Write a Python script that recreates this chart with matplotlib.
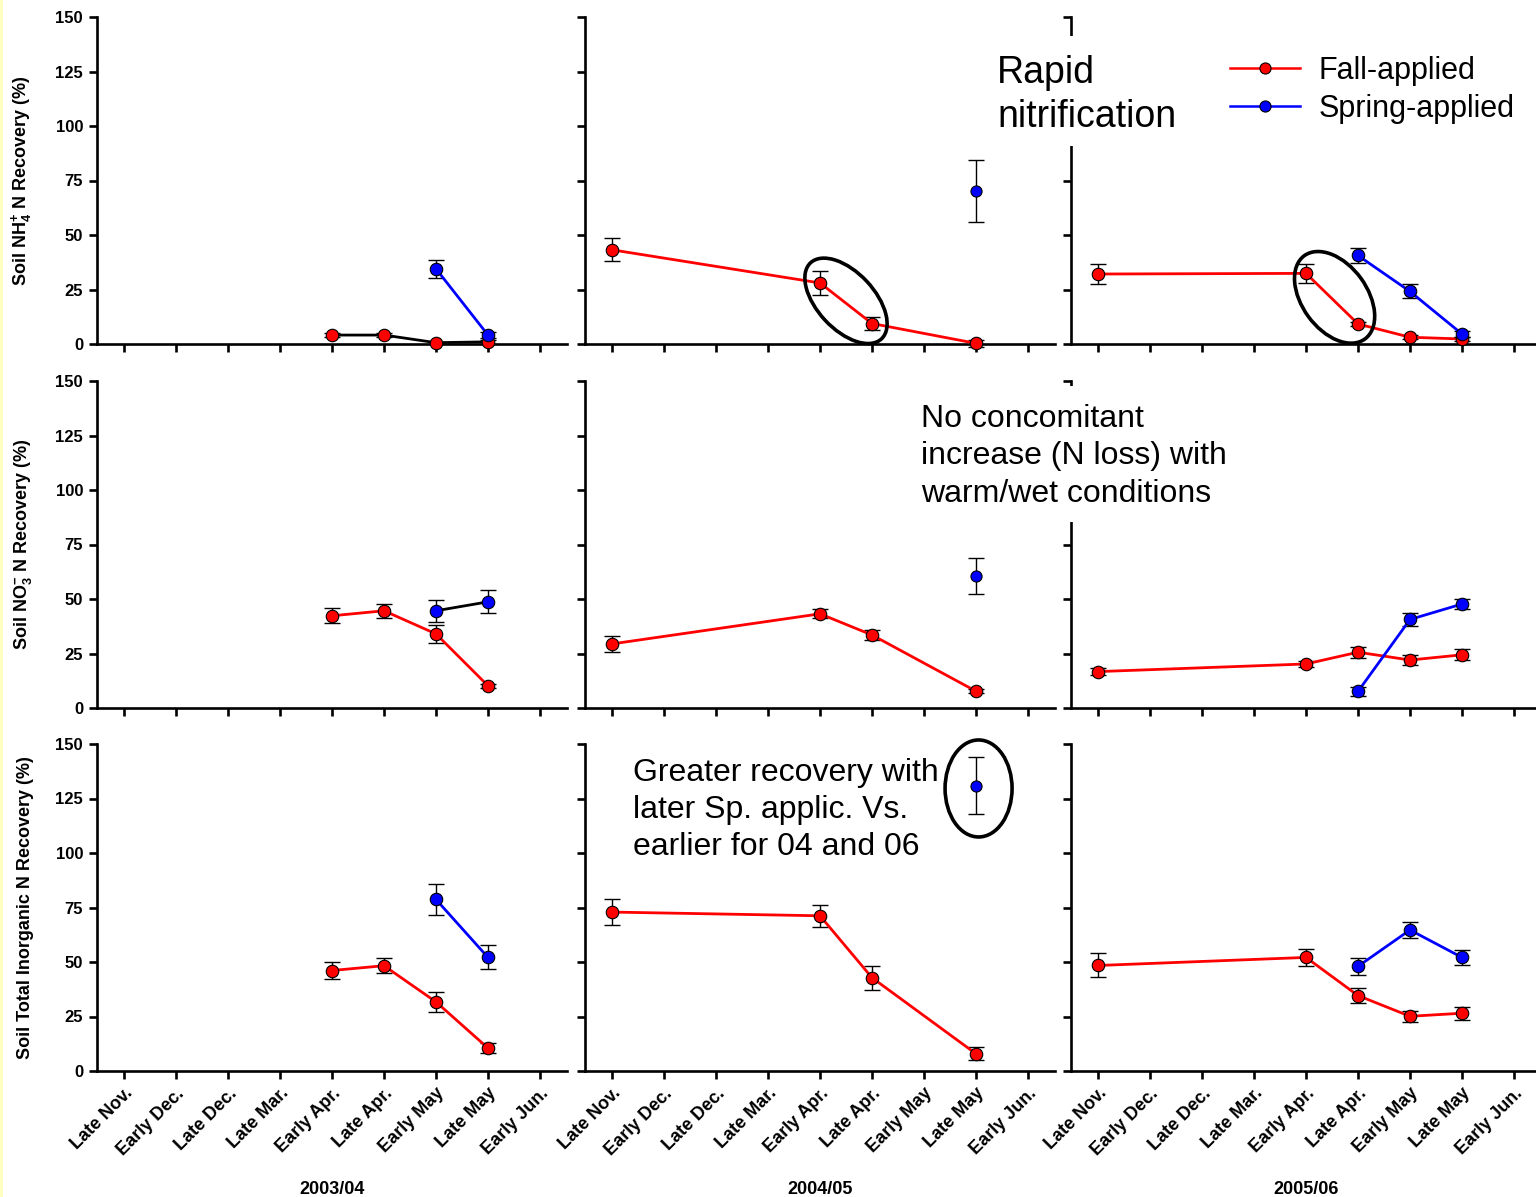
import matplotlib
matplotlib.use("Agg")
import matplotlib.pyplot as plt
from matplotlib.patches import Ellipse, Rectangle
from matplotlib.lines import Line2D
from matplotlib.transforms import ScaledTranslation

plt.rcParams['font.family'] = ['Liberation Sans', 'DejaVu Sans']
plt.rcParams['mathtext.fontset'] = 'custom'
plt.rcParams['mathtext.bf'] = 'Liberation Sans:bold'
plt.rcParams['mathtext.rm'] = 'Liberation Sans:bold'

# ---------------- data ----------------
dates = ["Late Nov.", "Early Dec.", "Late Dec.", "Late Mar.", "Early Apr.",
         "Late Apr.", "Early May", "Late May", "Early Jun."]
seasons = ["2003/04", "2004/05", "2005/06"]
yticks = [0, 25, 50, 75, 100, 125, 150]

fall_idx_0304 = [4, 5, 6, 7]
fall_idx_0405 = [0, 4, 5, 7]
fall_idx_0506 = [0, 4, 5, 6, 7]
spring_idx_0304 = [6, 7]
spring_idx_0405 = [7]
spring_idx_0506 = [5, 6, 7]

# NH4+ recovery
nh4_fall_0304 = [4.1, 4.1, 0.6, 1.0]
nh4_fall_0304_err = [0.8, 0.8, 0.5, 0.8]
nh4_fall_0405 = [43.2, 28.0, 9.4, 0.3]
nh4_fall_0405_err = [5.2, 5.4, 3.0, 1.5]
nh4_fall_0506 = [32.1, 32.4, 9.2, 3.1, 2.3]
nh4_fall_0506_err = [4.4, 4.5, 1.0, 1.0, 1.0]
nh4_spring_0304 = [34.5, 4.1]
nh4_spring_0304_err = [4.0, 1.5]
nh4_spring_0405 = [70.3]
nh4_spring_0405_err = [14.2]
nh4_spring_0506 = [40.6, 24.1, 4.6]
nh4_spring_0506_err = [3.5, 3.2, 1.5]

# NO3- recovery
no3_fall_0304 = [42.3, 44.6, 34.0, 10.2]
no3_fall_0304_err = [3.4, 3.3, 4.2, 1.0]
no3_fall_0405 = [29.4, 43.2, 33.5, 7.7]
no3_fall_0405_err = [3.5, 2.0, 2.5, 1.0]
no3_fall_0506 = [16.7, 20.2, 25.6, 22.0, 24.4]
no3_fall_0506_err = [1.5, 1.5, 2.5, 2.5, 2.5]
no3_spring_0304 = [44.6, 48.7]
no3_spring_0304_err = [5.0, 5.3]
no3_spring_0405 = [60.4]
no3_spring_0405_err = [8.2]
no3_spring_0506 = [7.6, 40.6, 47.7]
no3_spring_0506_err = [2.0, 2.8, 2.5]

# Total inorganic N recovery
tin_fall_0304 = [46.1, 48.3, 31.7, 10.5]
tin_fall_0304_err = [4.0, 3.5, 4.5, 2.4]
tin_fall_0405 = [72.9, 71.2, 42.8, 7.9]
tin_fall_0405_err = [6.0, 5.0, 5.5, 3.0]
tin_fall_0506 = [48.4, 52.1, 34.6, 25.1, 26.5]
tin_fall_0506_err = [5.5, 4.0, 3.3, 2.5, 3.0]
tin_spring_0304 = [78.7, 52.1]
tin_spring_0304_err = [7.0, 5.5]
tin_spring_0405 = [130.9]
tin_spring_0405_err = [13.2]
tin_spring_0506 = [48.0, 64.7, 52.1]
tin_spring_0506_err = [3.8, 3.7, 3.4]

ylabels = [r"Soil NH$_\mathbf{4}^\mathbf{+}$ N Recovery (%)",
           r"Soil NO$_\mathbf{3}^\mathbf{-}$ N Recovery (%)",
           "Soil Total Inorganic N Recovery (%)"]

fall_idx = [fall_idx_0304, fall_idx_0405, fall_idx_0506]
spring_idx = [spring_idx_0304, spring_idx_0405, spring_idx_0506]
fall_vals = [[nh4_fall_0304, nh4_fall_0405, nh4_fall_0506],
             [no3_fall_0304, no3_fall_0405, no3_fall_0506],
             [tin_fall_0304, tin_fall_0405, tin_fall_0506]]
fall_errs = [[nh4_fall_0304_err, nh4_fall_0405_err, nh4_fall_0506_err],
             [no3_fall_0304_err, no3_fall_0405_err, no3_fall_0506_err],
             [tin_fall_0304_err, tin_fall_0405_err, tin_fall_0506_err]]
spring_vals = [[nh4_spring_0304, nh4_spring_0405, nh4_spring_0506],
               [no3_spring_0304, no3_spring_0405, no3_spring_0506],
               [tin_spring_0304, tin_spring_0405, tin_spring_0506]]
spring_errs = [[nh4_spring_0304_err, nh4_spring_0405_err, nh4_spring_0506_err],
               [no3_spring_0304_err, no3_spring_0405_err, no3_spring_0506_err],
               [tin_spring_0304_err, tin_spring_0405_err, tin_spring_0506_err]]

# connecting-line colours as drawn in the original (two panels use black lines)
fall_line_colors = [["black", "red", "red"], ["red", "red", "red"], ["red", "red", "red"]]
spring_line_colors = [["blue", "blue", "blue"], ["black", "blue", "blue"], ["blue", "blue", "blue"]]

# ---------------- figure ----------------
W, H = 1536, 1197
fig = plt.figure(figsize=(W / 100, H / 100), dpi=100)
fig.patch.set_facecolor("white")

col_left = [97, 585, 1071]
row_bottom = [344, 708, 1071]
ax_w, ax_h = 470, 327

axes = [[None] * 3 for _ in range(3)]
for r in range(3):
    for c in range(3):
        ax = fig.add_axes([col_left[c] / W, 1 - row_bottom[r] / H, ax_w / W, ax_h / H])
        axes[r][c] = ax
        ax.set_xlim(-0.52, 8.52)
        ax.set_ylim(0, 150)
        for s in ("top", "right"):
            ax.spines[s].set_visible(False)
        for s in ("left", "bottom"):
            ax.spines[s].set_linewidth(1.9)
        ax.tick_params(direction="out", length=6, width=1.9, color="black")
        ax.set_xticks(range(len(dates)))
        ax.set_yticks(yticks)
        if r == 2:
            ax.set_xticklabels(dates, rotation=45, ha="right", va="top",
                               rotation_mode="anchor", fontsize=13, fontweight="bold")
            ax.tick_params(axis="x", pad=4)
            ax.set_xlabel(seasons[c], fontsize=13, fontweight="bold")
            ax.xaxis.set_label_coords(0.5, -0.335)
        else:
            ax.set_xticklabels([])
        if c == 0:
            ax.set_yticklabels([str(v) for v in yticks], fontsize=12, fontweight="bold")
            ax.tick_params(axis="y", pad=4)
            ax.set_ylabel(ylabels[r], fontsize=13, fontweight="bold")
            ax.yaxis.set_label_coords(-0.135, 0.5)
        else:
            ax.set_yticklabels([])

        # fall-applied
        fx, fy, fe = fall_idx[c], fall_vals[r][c], fall_errs[r][c]
        ax.errorbar(fx, fy, yerr=fe, fmt="none", ecolor="black", elinewidth=1.0,
                    capsize=6, capthick=1.0, zorder=2, clip_on=False)
        ax.plot(fx, fy, color=fall_line_colors[r][c], lw=2.0, marker="o", ms=9,
                mfc="red", mec="black", mew=0.8, zorder=3, clip_on=False)
        # spring-applied
        sx, sy, se = spring_idx[c], spring_vals[r][c], spring_errs[r][c]
        ax.errorbar(sx, sy, yerr=se, fmt="none", ecolor="black", elinewidth=1.0,
                    capsize=6, capthick=1.0, zorder=4, clip_on=False)
        ax.plot(sx, sy, color=spring_line_colors[r][c], lw=2.0, marker="o",
                ms=9 if len(sx) > 1 else 8, mfc="blue", mec="black", mew=0.8,
                zorder=5, clip_on=False)


def ring(ax, x, y, w_px, h_px, angle):
    tr = fig.dpi_scale_trans + ScaledTranslation(x, y, ax.transData)
    e = Ellipse((0, 0), w_px / 100, h_px / 100, angle=angle, transform=tr,
                fill=False, edgecolor="black", linewidth=2.6, zorder=6, clip_on=False)
    fig.add_artist(e)


ring(axes[0][1], 4.5, 19.8, 104, 57, -47)
ring(axes[0][2], 4.55, 21.4, 103, 65, -54)
ring(axes[2][1], 7.05, 129.6, 67, 97, 0)

# white boxes behind the annotations
fig.add_artist(Rectangle((985 / W, 1 - 146 / H), (1180 - 985) / W, (146 - 36) / H,
                         transform=fig.transFigure, facecolor="white",
                         edgecolor="none", zorder=7))
fig.add_artist(Rectangle((910 / W, 1 - 522 / H), (1230 - 910) / W, (522 - 386) / H,
                         transform=fig.transFigure, facecolor="white",
                         edgecolor="none", zorder=7))

fig.text(997 / W, 1 - 55 / H, "Rapid\nnitrification", fontsize=27, va="top",
         ha="left", linespacing=1.3, zorder=8)
fig.text(921 / W, 1 - 404 / H, "No concomitant\nincrease (N loss) with\nwarm/wet conditions",
         fontsize=23, va="top", ha="left", linespacing=1.32, zorder=8)
fig.text(633 / W, 1 - 758 / H, "Greater recovery with\nlater Sp. applic. Vs.\nearlier for 04 and 06",
         fontsize=23, va="top", ha="left", linespacing=1.3, zorder=8)

handles = [Line2D([], [], color="red", lw=1.8, marker="o", ms=8, mfc="red", mec="black", mew=0.8),
           Line2D([], [], color="blue", lw=1.8, marker="o", ms=8, mfc="blue", mec="black", mew=0.8)]
fig.legend(handles, ["Fall-applied", "Spring-applied"], loc="upper left",
           bbox_to_anchor=(1230 / W, 1 - 56 / H), frameon=False, fontsize=22,
           handlelength=2.3, handletextpad=0.6, labelspacing=0.25,
           borderpad=0, borderaxespad=0)

# thin yellow strip at the left edge
fig.add_artist(Rectangle((0, 0), 3 / W, 1, transform=fig.transFigure,
                         facecolor="#FFFFC0", edgecolor="none", zorder=9))

fig.savefig("out.png", dpi=100, facecolor="white")
